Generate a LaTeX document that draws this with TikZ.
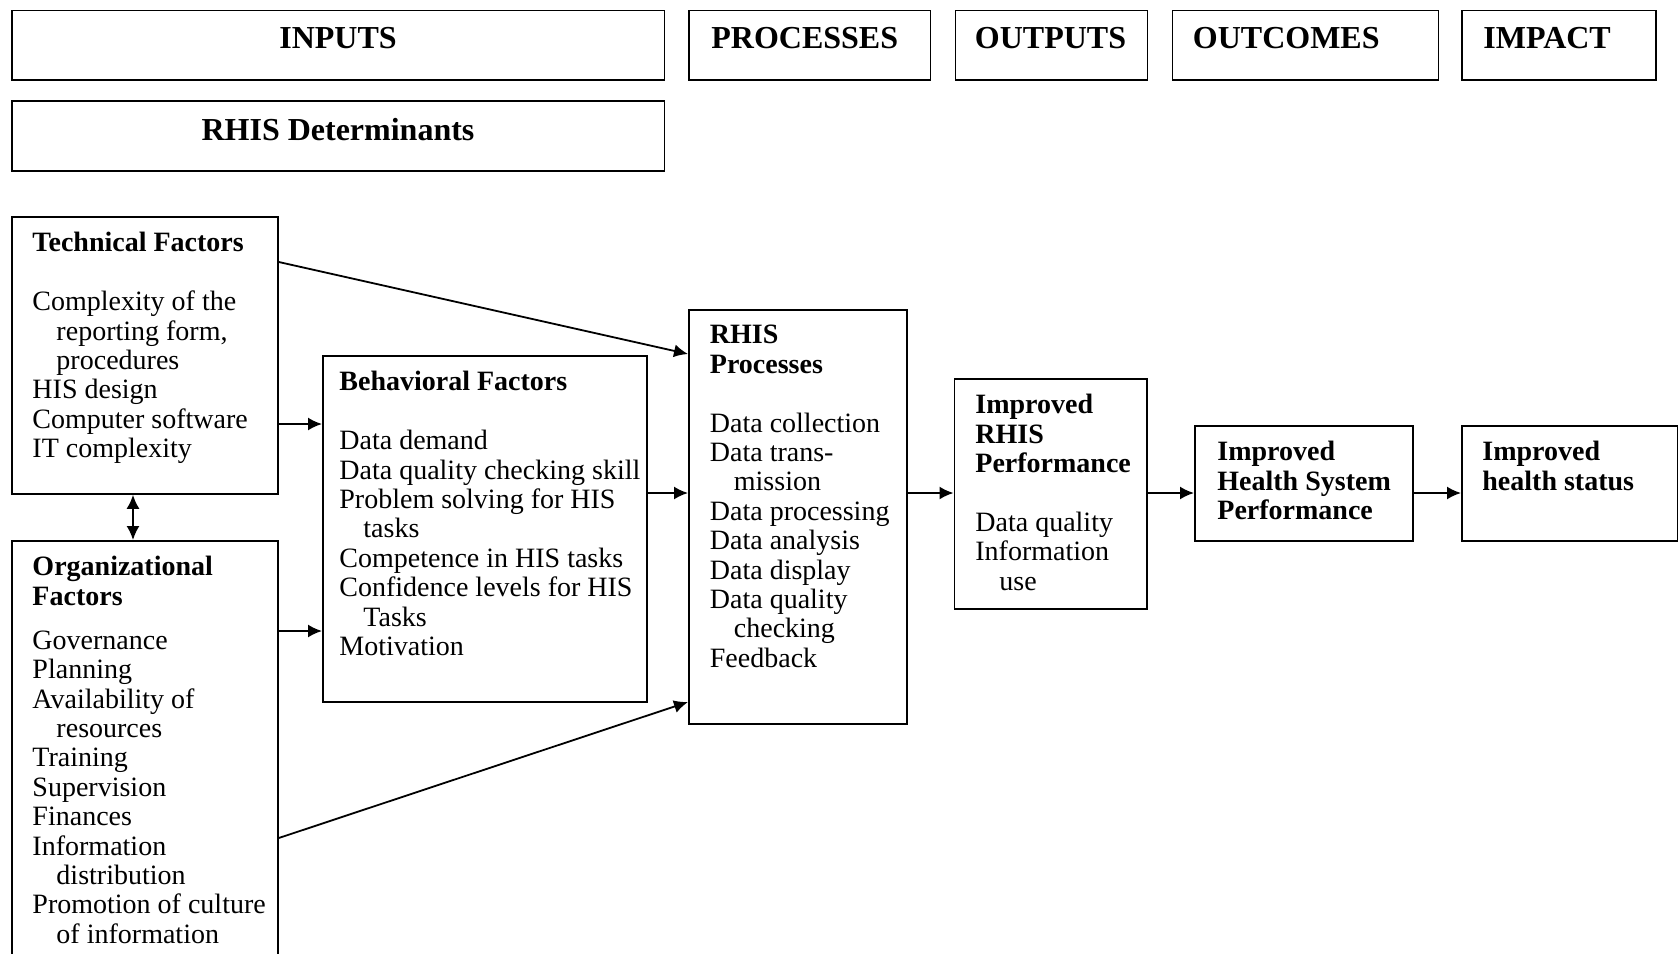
\documentclass[tikz,border=0pt]{standalone}
\usepackage{fontspec}
\setmainfont{Liberation Serif}
\usetikzlibrary{arrows.meta}
\tikzset{>={Latex[length=7pt,width=6.5pt]}}
\tikzset{
  blk/.style={draw, line width=0.9pt, inner sep=0pt, anchor=north west},
  head/.style={font=\fontsize{16pt}{18pt}\selectfont\bfseries, inner sep=0pt},
  txt/.style={font=\fontsize{14pt}{14.7pt}\selectfont, align=left, inner sep=0pt, anchor=north west,
    execute at begin node=\rule{0pt}{10pt}},
  arr/.style={->, line width=0.9pt}
}
\newcommand{\hng}{\hspace*{12pt}}

\begin{document}
\begin{tikzpicture}[x=1pt, y=-1pt]
\useasboundingbox (0,0) rectangle (839,477);
% header row
\node[blk, minimum width=326.4pt, minimum height=34.75pt] (inp) at (5.35,4.75) {};
\node[blk, minimum width=120.75pt, minimum height=34.75pt] (phd) at (344,4.75) {};
\node[blk, minimum width=96pt, minimum height=34.75pt] (ohd) at (477.25,4.75) {};
\node[blk, minimum width=133pt, minimum height=34.75pt] (ochd) at (585.75,4.75) {};
\node[blk, minimum width=97pt, minimum height=34.75pt] (imhd) at (730.5,4.75) {};
\node[blk, minimum width=326.4pt, minimum height=35pt] (rdet) at (5.35,50) {};
\node[head, anchor=base] (inpt) at (inp.north |- 0,24) {INPUTS};
\node[head, anchor=base west] (phdt) at ([shift={(11.5,19.5)}]phd.north west) {PROCESSES};
\node[head, anchor=base west] (ohdt) at ([shift={(10,19.5)}]ohd.north west) {OUTPUTS};
\node[head, anchor=base west] (ochdt) at ([shift={(10.5,19.5)}]ochd.north west) {OUTCOMES};
\node[head, anchor=base west] (imhdt) at ([shift={(11,19.5)}]imhd.north west) {IMPACT};
\node[head, anchor=base] (rdett) at (rdet.north |- 0,70) {RHIS Determinants};
% boxes
\node[blk, minimum width=133.15pt, minimum height=138.5pt] (tech) at (5.35,108) {};
\node[blk, minimum width=133.15pt, minimum height=220pt] (org) at (5.35,270) {};
\node[blk, minimum width=162pt, minimum height=173pt] (behav) at (161,177.5) {};
\node[blk, minimum width=109pt, minimum height=207pt] (proc) at (344,154.5) {};
\node[blk, minimum width=96.25pt, minimum height=115pt] (perf) at (476.75,189) {};
\node[blk, minimum width=109pt, minimum height=57.5pt] (hsp) at (597,212.5) {};
\node[blk, minimum width=107.8pt, minimum height=57.5pt] (health) at (730.5,212.5) {};
% box texts
\node[txt] (techt) at ([shift={(10.7,8)}]tech.north west) {\textbf{Technical Factors}\\[14.7pt]
Complexity of the\\ \hng reporting form,\\ \hng procedures\\ HIS design\\ Computer software\\ IT complexity};
\node[txt] (orgt) at ([shift={(10.7,8)}]org.north west) {\textbf{Organizational}\\ \textbf{Factors}\\[7.35pt]
Governance\\ Planning\\ Availability of\\ \hng resources\\ Training\\ Supervision\\ Finances\\ Information\\ \hng distribution\\ Promotion of culture\\ \hng of information};
\node[txt] (behavt) at ([shift={(8.5,8)}]behav.north west) {\textbf{Behavioral Factors}\\[14.7pt]
Data demand\\ Data quality checking skill\\ Problem solving for HIS\\ \hng tasks\\ Competence in HIS tasks\\ Confidence levels for HIS\\ \hng Tasks\\ Motivation};
\node[txt] (proct) at ([shift={(10.75,8)}]proc.north west) {\textbf{RHIS}\\ \textbf{Processes}\\[14.7pt]
Data collection\\ Data trans-\\ \hng mission\\ Data processing\\ Data analysis\\ Data display\\ Data quality\\ \hng checking\\ Feedback};
\node[txt] (perft) at ([shift={(10.75,8)}]perf.north west) {\textbf{Improved}\\ \textbf{RHIS}\\ \textbf{Performance}\\[14.7pt]
Data quality\\ Information\\ \hng use};
\node[txt] (hspt) at ([shift={(11.5,8)}]hsp.north west) {\textbf{Improved}\\ \textbf{Health System}\\ \textbf{Performance}};
\node[txt] (healtht) at ([shift={(10.5,8)}]health.north west) {\textbf{Improved}\\ \textbf{health status}};
% connectors
\draw[arr] (tech.east |- 0,212) -- (behav.west |- 0,212);
\draw[arr] (org.east |- 0,315.5) -- (behav.west |- 0,315.5);
\draw[arr] (tech.east |- 0,131) -- (proc.west |- 0,177);
\draw[arr] (org.east |- 0,419) -- (proc.west |- 0,351);
\draw[arr] (behav.east |- 0,246.5) -- (proc.west |- 0,246.5);
\draw[arr] (proc.east |- 0,246.5) -- (perf.west |- 0,246.5);
\draw[arr] (perf.east |- 0,246.5) -- (hsp.west |- 0,246.5);
\draw[arr] (hsp.east |- 0,246.5) -- (health.west |- 0,246.5);
\draw[arr, <->] (tech.south -| 66.5,0) -- (org.north -| 66.5,0);
\end{tikzpicture}
\end{document}
